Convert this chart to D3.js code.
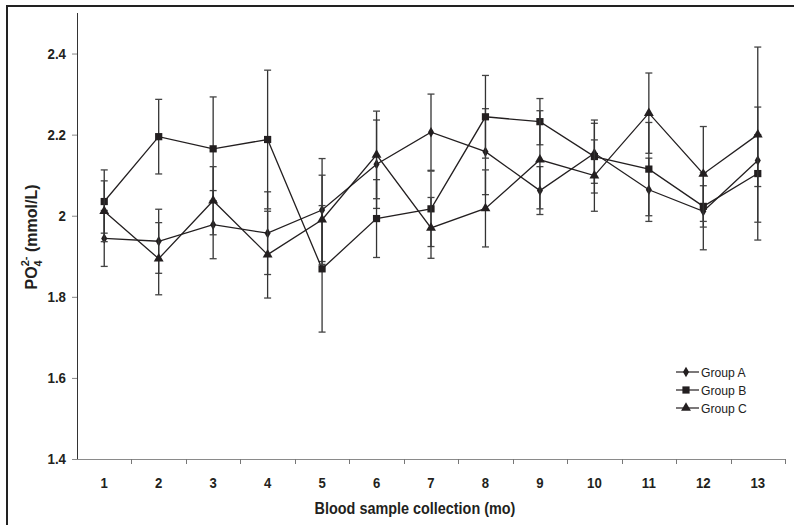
<!DOCTYPE html>
<html>
<head>
<meta charset="utf-8">
<script src="https://cdn.jsdelivr.net/npm/d3@7/dist/d3.min.js"></script>
<style>
  body { margin: 0; background: #fff; }
  svg { display: block; font-family: "Liberation Sans", Arial, sans-serif; }
</style>
</head>
<body>
<svg id="chart" width="794" height="525"></svg>
<script>
const months = ["1","2","3","4","5","6","7","8","9","10","11","12","13"];
const groupA    = [1.944,1.937,1.978,1.957,2.014,2.127,2.206,2.158,2.062,2.154,2.064,2.011,2.136];
const groupAErr = [0.069,0.079,0.084,0.102,0.127,0.109,0.094,0.106,0.059,0.074,0.078,0.095,0.064];
const groupB    = [2.035,2.195,2.165,2.188,1.869,1.993,2.017,2.244,2.232,2.146,2.115,2.023,2.104];
const groupBErr = [0.078,0.092,0.128,0.171,0.156,0.096,0.093,0.102,0.057,0.090,0.115,0.051,0.164];
const groupC    = [2.011,1.894,2.037,1.904,1.990,2.150,1.970,2.018,2.138,2.099,2.253,2.103,2.200];
const groupCErr = [0.075,0.089,0.084,0.107,0.110,0.108,0.075,0.095,0.121,0.088,0.099,0.117,0.216];
const seriesNames = ["Group A","Group B","Group C"];
const yTickValues = [1.4,1.6,1.8,2.0,2.2,2.4];
const yTickLabels = ["1.4","1.6","1.8","2","2.2","2.4"];

(function(){
const svg = d3.select("#chart");
const ink = "#231f20";
const pL = 77, pR = 785, pT = 13, pB = 459;

// condense text horizontally (reference uses a narrow face)
function condense(sel, k) {
  sel.each(function() {
    const w = this.getComputedTextLength();
    d3.select(this).attr("textLength", (w * k).toFixed(1)).attr("lengthAdjust", "spacingAndGlyphs");
  });
}

const x = d3.scaleBand().domain(months).range([pL, pR]).padding(0);
const y = d3.scaleLinear().domain([1.4, 2.5]).range([pB, pT]);

// frame (cropped figure border)
svg.append("line").attr("x1",7).attr("y1",6).attr("x2",794).attr("y2",6)
  .attr("stroke","#222").attr("stroke-width",2);
svg.append("line").attr("x1",7).attr("y1",5).attr("x2",7).attr("y2",525)
  .attr("stroke","#222").attr("stroke-width",2);

// y axis
const yAxis = d3.axisLeft(y).tickValues(yTickValues)
  .tickFormat((d,i) => yTickLabels[i]).tickSize(5).tickSizeOuter(0).tickPadding(6);
const gy = svg.append("g").attr("transform",`translate(${pL},0)`).call(yAxis);
gy.select(".domain").attr("stroke", "#333").attr("d", `M0.5,${pT}V${pB}`);
gy.selectAll(".tick line").attr("stroke","#888");
gy.selectAll(".tick text").attr("font-size","15.5px").attr("font-weight","bold").attr("fill",ink)
  .attr("font-family","Liberation Sans, Arial, sans-serif");
condense(gy.selectAll(".tick text"), 0.86);

// x axis (labels centered, ticks at category boundaries)
const xAxis = d3.axisBottom(x).tickSize(0).tickSizeOuter(0).tickPadding(18);
const gx = svg.append("g").attr("transform",`translate(0,${pB})`).call(xAxis);
gx.select(".domain").remove();
gx.selectAll(".tick text").attr("font-size","15px").attr("font-weight","bold").attr("fill",ink)
  .attr("font-family","Liberation Sans, Arial, sans-serif");
condense(gx.selectAll(".tick text"), 0.88);
svg.append("line").attr("x1",pL-5).attr("x2",pR).attr("y1",pB+0.5).attr("y2",pB+0.5)
  .attr("stroke","#8a8a8a").attr("stroke-width",1.2);
svg.append("g").selectAll("line").data(months).join("line")
  .attr("x1",d => Math.round(x(d)+x.bandwidth())+0.5).attr("x2",d => Math.round(x(d)+x.bandwidth())+0.5)
  .attr("y1",pB).attr("y2",pB+5).attr("stroke","#777");

// axis titles
const xt = svg.append("text").attr("x",415).attr("y",514).attr("text-anchor","middle")
  .attr("font-size","16px").attr("font-weight","bold").attr("fill",ink)
  .text("Blood sample collection (mo)");
condense(xt, 0.9);
const yt = svg.append("text").attr("transform",`translate(37,${(pT+pB)/2+1}) rotate(-90)`)
  .attr("text-anchor","middle").attr("font-size","16px").attr("font-weight","bold").attr("fill",ink);
yt.append("tspan").text("PO");
yt.append("tspan").attr("dy",5).attr("font-size","11px").text("4");
yt.append("tspan").attr("dx",-6).attr("dy",-13).attr("font-size","11px").text("2-");
yt.append("tspan").attr("dy",8).text(" (mmol/L)");

// series
const series = [
  {name: seriesNames[0], vals: groupA, err: groupAErr, shape: d3.symbolDiamond, size: 32},
  {name: seriesNames[1], vals: groupB, err: groupBErr, shape: d3.symbolSquare, size: 52},
  {name: seriesNames[2], vals: groupC, err: groupCErr, shape: d3.symbolTriangle, size: 42}
];
const cx = d => x(d) + x.bandwidth()/2;

series.forEach(s => {
  const g = svg.append("g");
  const eb = g.append("g").selectAll("g").data(months).join("g");
  eb.append("line").attr("x1",(d)=>cx(d)).attr("x2",(d)=>cx(d))
    .attr("y1",(d,i)=>y(s.vals[i]+s.err[i])).attr("y2",(d,i)=>y(s.vals[i]-s.err[i]))
    .attr("stroke","#333").attr("stroke-width",1.3);
  [1,-1].forEach(sign => {
    eb.append("line").attr("x1",d=>cx(d)-3.5).attr("x2",d=>cx(d)+3.5)
      .attr("y1",(d,i)=>y(s.vals[i]+sign*s.err[i])).attr("y2",(d,i)=>y(s.vals[i]+sign*s.err[i]))
      .attr("stroke","#444").attr("stroke-width",1.3);
  });
  const line = d3.line().x((d,i)=>cx(months[i])).y(d=>y(d));
  g.append("path").attr("d", line(s.vals)).attr("fill","none").attr("stroke",ink).attr("stroke-width",1.3);
  g.append("g").selectAll("path").data(s.vals).join("path")
    .attr("transform",(d,i)=>`translate(${cx(months[i])},${y(d)})`)
    .attr("d", d3.symbol().type(s.shape).size(s.size)).attr("fill",ink);
});

// legend
const lg = svg.append("g");
series.forEach((s,i) => {
  const ly = 372 + i*18;
  lg.append("line").attr("x1",676).attr("x2",699).attr("y1",ly).attr("y2",ly).attr("stroke",ink).attr("stroke-width",1.2);
  lg.append("path").attr("transform",`translate(686,${ly})`).attr("d", d3.symbol().type(s.shape).size(s.size)).attr("fill",ink);
  const t = lg.append("text").attr("x",701).attr("y",ly).attr("dy","0.35em").attr("font-size","13.5px").attr("fill","#222").text(s.name);
  condense(t, 0.9);
});
})();
</script>
</body>
</html>
